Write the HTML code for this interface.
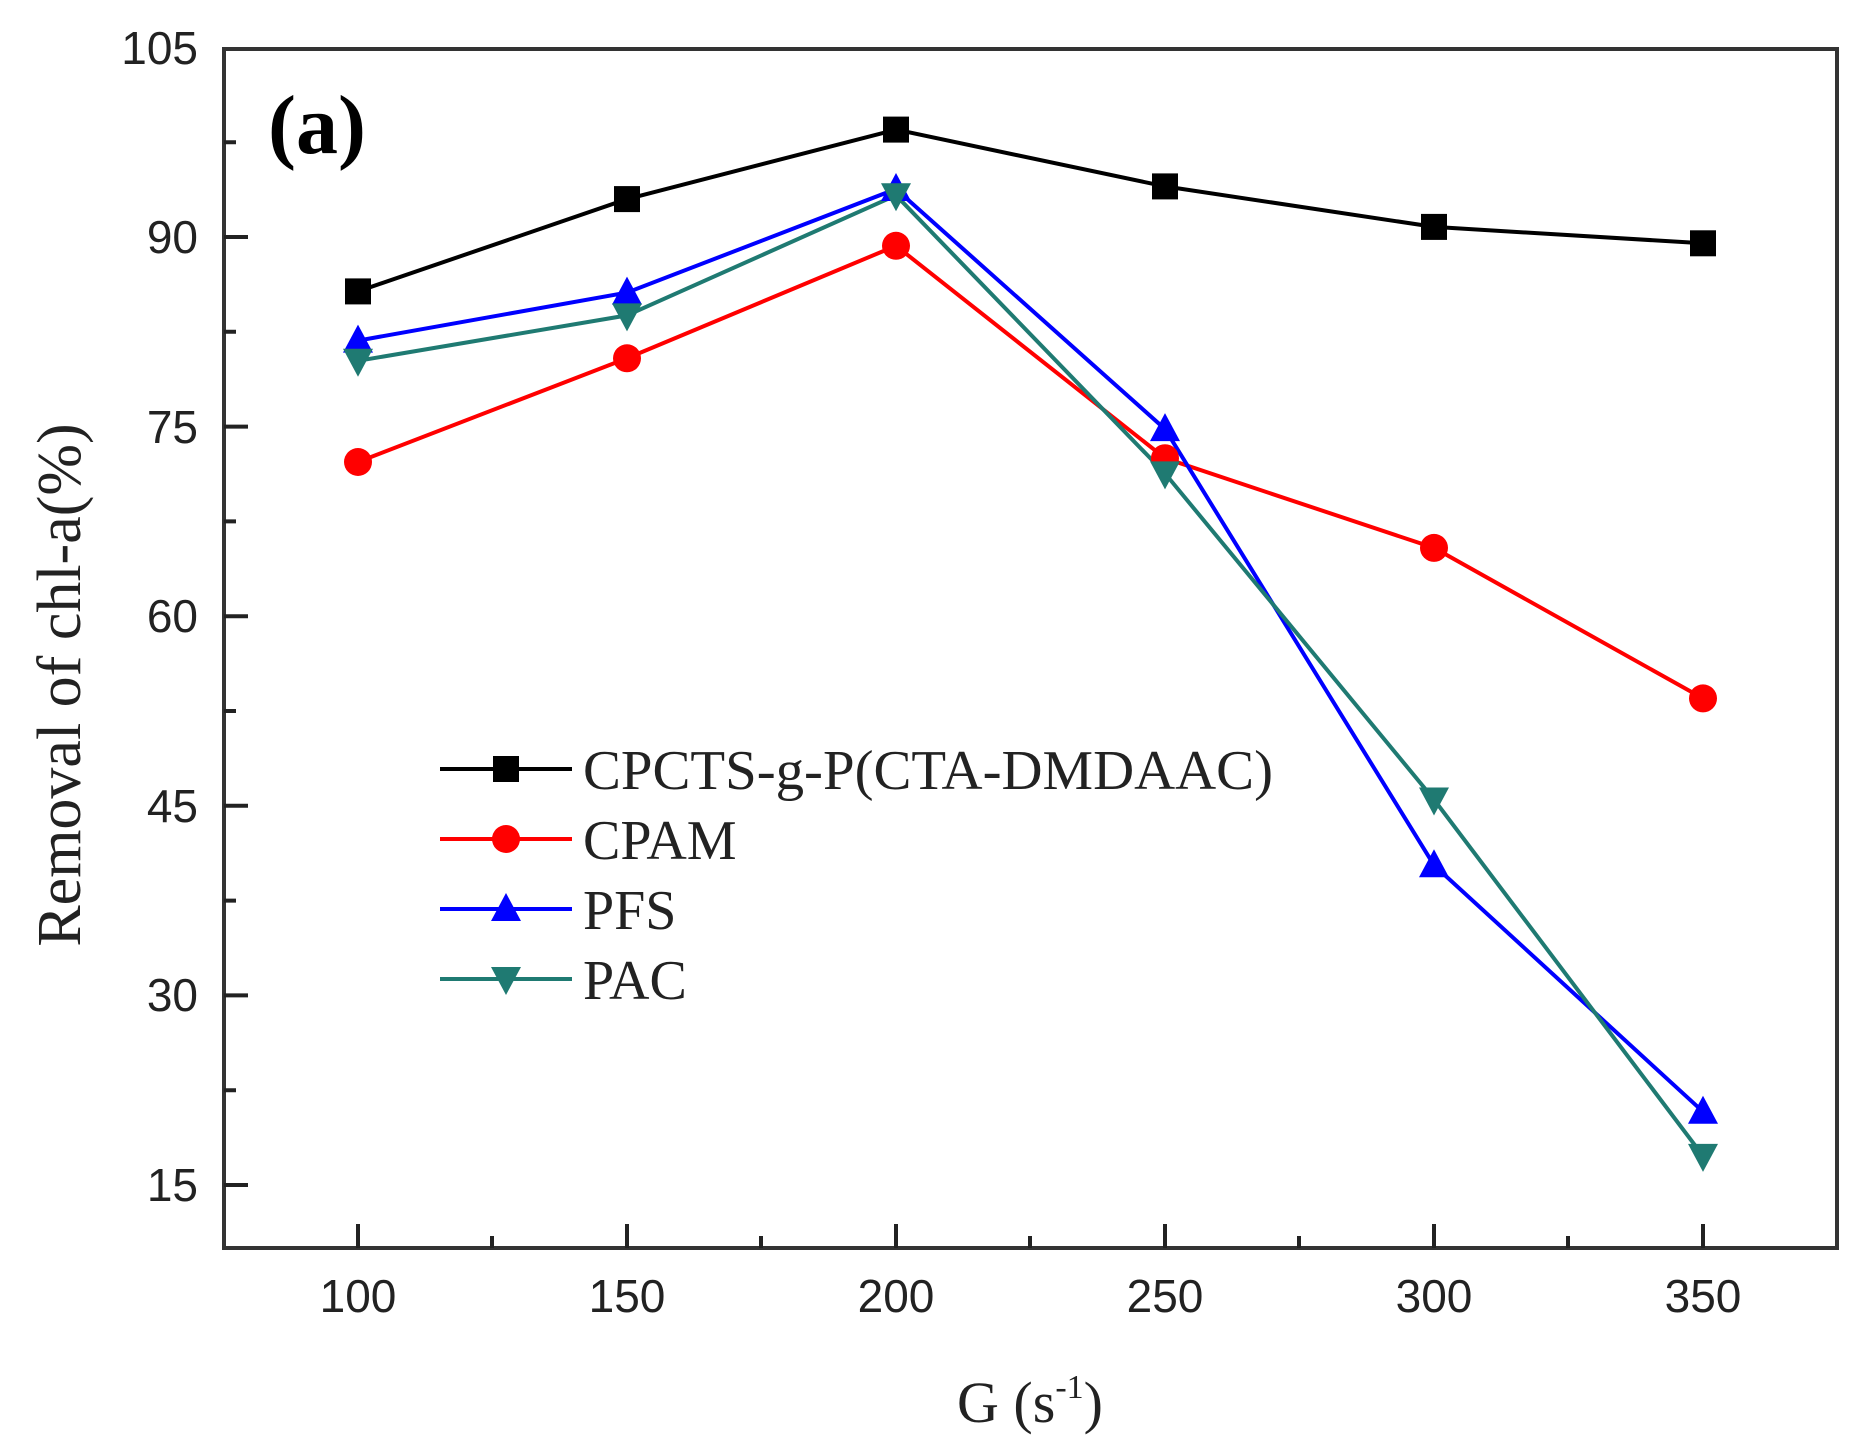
<!DOCTYPE html>
<html><head><style>body{margin:0;background:#fff}</style></head><body>
<svg width="1865" height="1447" viewBox="0 0 1865 1447" xmlns="http://www.w3.org/2000/svg">
<rect width="1865" height="1447" fill="#fff"/>
<rect x="224" y="49" width="1613" height="1199" fill="none" stroke="#333" stroke-width="4"/>
<g font-family="Liberation Sans, sans-serif" font-size="46" fill="#222" text-anchor="end">
<text x="198" y="1201">15</text><text x="198" y="1011">30</text><text x="198" y="822">45</text>
<text x="198" y="632">60</text><text x="198" y="443">75</text><text x="198" y="253">90</text><text x="198" y="64">105</text>
</g>
<g font-family="Liberation Sans, sans-serif" font-size="46" fill="#222" text-anchor="middle">
<text x="358" y="1312">100</text><text x="627" y="1312">150</text><text x="896" y="1312">200</text>
<text x="1165" y="1312">250</text><text x="1434" y="1312">300</text><text x="1703" y="1312">350</text>
</g>
<g stroke="#222" stroke-width="4">
<path d="M224 1185h24M224 995.4h24M224 805.8h24M224 616.2h24M224 426.6h24M224 237h24"/>
<path d="M224 1090.2h12M224 900.6h12M224 711h12M224 521.4h12M224 331.8h12M224 142.2h12"/>
<path d="M358 1248v-24M627 1248v-24M896 1248v-24M1165 1248v-24M1434 1248v-24M1703 1248v-24"/>
<path d="M492 1248v-12M761 1248v-12M1030 1248v-12M1299 1248v-12M1568 1248v-12"/>
</g>
<text x="268" y="153" font-family="Liberation Serif, serif" font-weight="bold" font-size="84">(a)</text>
<text transform="translate(80,685) rotate(-90)" text-anchor="middle" font-family="Liberation Serif, serif" font-size="62" fill="#222">Removal of chl-a(%)</text>
<text x="1030" y="1422" text-anchor="middle" font-family="Liberation Serif, serif" font-size="58" fill="#222">G (s<tspan dy="-24" font-size="34">-1</tspan><tspan dy="24">)</tspan></text>

<g fill="none" stroke-width="4">
<polyline stroke="#000" points="358,291.4 627,199.1 896,129.6 1165,186.4 1434,226.9 1703,243.3"/>
<polyline stroke="#f00" points="358,462 627,358.3 896,245.8 1165,458.2 1434,547.9 1703,698.4"/>
<polyline stroke="#00f" points="358,340.6 627,292.6 896,189 1165,429.1 1434,865.2 1703,1111.7"/>
<polyline stroke="#1f7a72" points="358,360.8 627,315.4 896,195.3 1165,473.4 1434,799.5 1703,1155.9"/>
<line x1="440" x2="572" y1="769" y2="769" stroke="#000"/>
<line x1="440" x2="572" y1="839" y2="839" stroke="#f00"/>
<line x1="440" x2="572" y1="909" y2="909" stroke="#00f"/>
<line x1="440" x2="572" y1="979" y2="979" stroke="#1f7a72"/>
</g>
<defs>
<rect id="sq" x="-13" y="-13" width="26" height="26" fill="#000"/>
<circle id="ci" r="14" fill="#f00"/>
<polygon id="up" points="0,-16 -15,12 15,12" fill="#00f"/>
<polygon id="dn" points="0,16 -15,-12 15,-12" fill="#1f7a72"/>
</defs>
<use href="#sq" x="358" y="291.4"/><use href="#sq" x="627" y="199.1"/><use href="#sq" x="896" y="129.6"/><use href="#sq" x="1165" y="186.4"/><use href="#sq" x="1434" y="226.9"/><use href="#sq" x="1703" y="243.3"/>
<use href="#ci" x="358" y="462"/><use href="#ci" x="627" y="358.3"/><use href="#ci" x="896" y="245.8"/><use href="#ci" x="1165" y="458.2"/><use href="#ci" x="1434" y="547.9"/><use href="#ci" x="1703" y="698.4"/>
<use href="#up" x="358" y="340.6"/><use href="#up" x="627" y="292.6"/><use href="#up" x="896" y="189"/><use href="#up" x="1165" y="429.1"/><use href="#up" x="1434" y="865.2"/><use href="#up" x="1703" y="1111.7"/>
<use href="#dn" x="358" y="360.8"/><use href="#dn" x="627" y="315.4"/><use href="#dn" x="896" y="195.3"/><use href="#dn" x="1165" y="473.4"/><use href="#dn" x="1434" y="799.5"/><use href="#dn" x="1703" y="1155.9"/>
<use href="#sq" x="506" y="769"/><use href="#ci" x="506" y="839"/><use href="#up" x="506" y="909"/><use href="#dn" x="506" y="979"/>

<g font-family="Liberation Serif, serif" font-size="56" fill="#222">
<text x="583" y="789" textLength="690" lengthAdjust="spacingAndGlyphs">CPCTS-g-P(CTA-DMDAAC)</text>
<text x="583" y="859">CPAM</text>
<text x="583" y="929">PFS</text>
<text x="583" y="999">PAC</text>
</g>
</svg>
</body></html>
